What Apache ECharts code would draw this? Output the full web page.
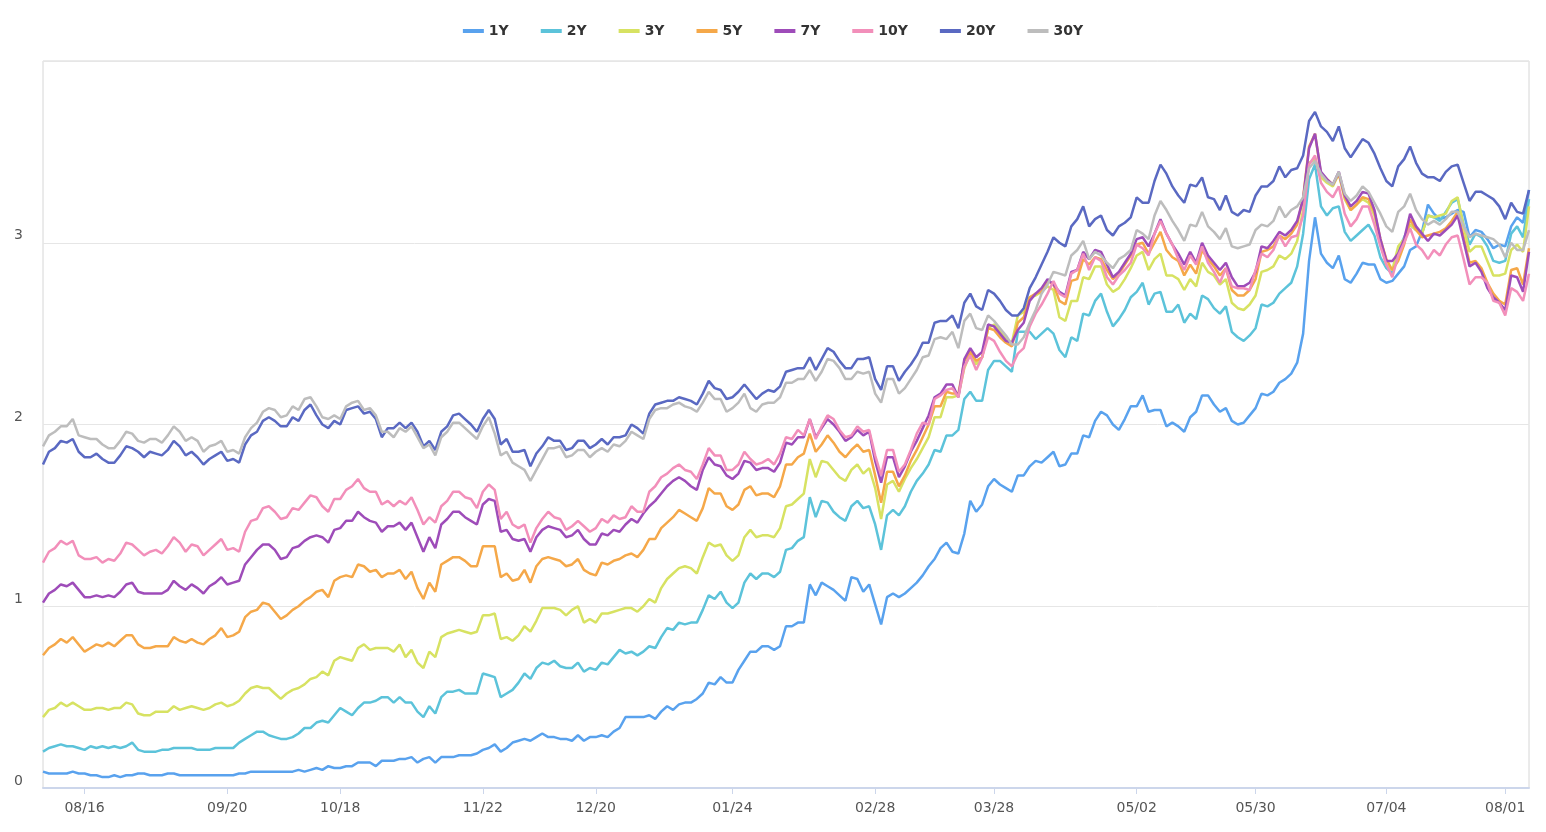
<!DOCTYPE html>
<html><head><meta charset="utf-8">
<script src="https://cdn.jsdelivr.net/npm/echarts@6/dist/echarts.min.js"></script>
<style>html,body{margin:0;padding:0;background:#fff}#chart{width:1546px;height:832px}</style>
</head><body><div id="chart"></div>
<script>
const dates = [
'08/05','08/06','08/09','08/10','08/11','08/12','08/13','08/16','08/17','08/18','08/19','08/20','08/23','08/24','08/25','08/26','08/27','08/30','08/31',
'09/01','09/02','09/03','09/07','09/08','09/09','09/10','09/13','09/14','09/15','09/16','09/17','09/20','09/21','09/22','09/23','09/24','09/27','09/28','09/29','09/30',
'10/01','10/04','10/05','10/06','10/07','10/08','10/12','10/13','10/14','10/15','10/18','10/19','10/20','10/21','10/22','10/25','10/26','10/27','10/28','10/29',
'11/01','11/02','11/03','11/04','11/05','11/08','11/09','11/10','11/12','11/15','11/16','11/17','11/18','11/19','11/22','11/23','11/24','11/26','11/29','11/30',
'12/01','12/02','12/03','12/06','12/07','12/08','12/09','12/10','12/13','12/14','12/15','12/16','12/17','12/20','12/21','12/22','12/23','12/27','12/28','12/29','12/30','12/31',
'01/03','01/04','01/05','01/06','01/07','01/10','01/11','01/12','01/13','01/14','01/18','01/19','01/20','01/21','01/24','01/25','01/26','01/27','01/28','01/31',
'02/01','02/02','02/03','02/04','02/07','02/08','02/09','02/10','02/11','02/14','02/15','02/16','02/17','02/18','02/22','02/23','02/24','02/25','02/28',
'03/01','03/02','03/03','03/04','03/07','03/08','03/09','03/10','03/11','03/14','03/15','03/16','03/17','03/18','03/21','03/22','03/23','03/24','03/25','03/28','03/29','03/30','03/31',
'04/01','04/04','04/05','04/06','04/07','04/08','04/11','04/12','04/13','04/14','04/18','04/19','04/20','04/21','04/22','04/25','04/26','04/27','04/28','04/29',
'05/02','05/03','05/04','05/05','05/06','05/09','05/10','05/11','05/12','05/13','05/16','05/17','05/18','05/19','05/20','05/23','05/24','05/25','05/26','05/27',
'05/30','05/31','06/01','06/02','06/06','06/07','06/08','06/09','06/10','06/13','06/14','06/15','06/16','06/17','06/21','06/22','06/23','06/24','06/27','06/28','06/29','06/30','07/04',
'07/05','07/06','07/07','07/08','07/11','07/12','07/13','07/14','07/15','07/18','07/19','07/20','07/21','07/22','07/25','07/26','07/27','07/28','07/29',
'08/01','08/02','08/03','08/04','08/05'
];
const labelDates = ['08/16','09/20','10/18','11/22','12/20','01/24','02/28','03/28','05/02','05/30','07/04','08/01'];
const yTicks = [0, 1, 2, 3];

const y1 = [
0.09,0.08,0.08,0.08,0.08,0.09,0.08,0.08,0.07,0.07,
0.06,0.06,0.07,0.06,0.07,0.07,0.08,0.08,0.07,0.07,
0.07,0.08,0.08,0.07,0.07,0.07,0.07,0.07,0.07,0.07,
0.07,0.07,0.07,0.08,0.08,0.09,0.09,0.09,0.09,0.09,
0.09,0.09,0.09,0.10,0.09,0.10,0.11,0.10,0.12,0.11,
0.11,0.12,0.12,0.14,0.14,0.14,0.12,0.15,0.15,0.15,
0.16,0.16,0.17,0.14,0.16,0.17,0.14,0.17,0.17,0.17,
0.18,0.18,0.18,0.19,0.21,0.22,0.24,0.20,0.22,0.25,
0.26,0.27,0.26,0.28,0.30,0.28,0.28,0.27,0.27,0.26,
0.29,0.26,0.28,0.28,0.29,0.28,0.31,0.33,0.39,0.39,
0.39,0.39,0.40,0.38,0.42,0.45,0.43,0.46,0.47,0.47,
0.49,0.52,0.58,0.57,0.61,0.58,0.58,0.65,0.70,0.75,
0.75,0.78,0.78,0.76,0.78,0.89,0.89,0.91,0.91,1.12,
1.06,1.13,1.11,1.09,1.06,1.03,1.16,1.15,1.08,1.12,
1.01,0.90,1.05,1.07,1.05,1.07,1.10,1.13,1.17,1.22,
1.26,1.32,1.35,1.30,1.29,1.40,1.58,1.52,1.56,1.66,
1.70,1.67,1.65,1.63,1.72,1.72,1.77,1.80,1.79,1.82,
1.85,1.77,1.78,1.84,1.84,1.94,1.93,2.02,2.07,2.05,
2.00,1.97,2.03,2.10,2.10,2.16,2.07,2.08,2.08,1.99,
2.01,1.99,1.96,2.04,2.07,2.16,2.16,2.11,2.07,2.09,
2.02,2.00,2.01,2.05,2.09,2.17,2.16,2.18,2.23,2.25,
2.28,2.34,2.50,2.90,3.14,2.94,2.89,2.86,2.93,2.80,
2.78,2.83,2.89,2.88,2.88,2.80,2.78,2.79,2.83,2.87,
2.96,2.98,3.06,3.21,3.16,3.13,3.14,3.16,3.18,3.17,
3.03,3.07,3.06,3.02,2.97,2.99,2.98,3.09,3.14,3.11,3.29
];
const y2 = [
0.20,0.22,0.23,0.24,0.23,0.23,0.22,0.21,0.23,0.22,
0.23,0.22,0.23,0.22,0.23,0.25,0.21,0.20,0.20,0.20,
0.21,0.21,0.22,0.22,0.22,0.22,0.21,0.21,0.21,0.22,
0.22,0.22,0.22,0.25,0.27,0.29,0.31,0.31,0.29,0.28,
0.27,0.27,0.28,0.30,0.33,0.33,0.36,0.37,0.36,0.40,
0.44,0.42,0.40,0.44,0.47,0.47,0.48,0.50,0.50,0.47,
0.50,0.47,0.47,0.42,0.39,0.45,0.41,0.50,0.53,0.53,
0.54,0.52,0.52,0.52,0.63,0.62,0.61,0.50,0.52,0.54,
0.58,0.63,0.60,0.66,0.69,0.68,0.70,0.67,0.66,0.66,
0.69,0.64,0.66,0.65,0.69,0.68,0.72,0.76,0.74,0.75,
0.73,0.75,0.78,0.77,0.83,0.88,0.87,0.91,0.90,0.91,
0.91,0.98,1.06,1.04,1.08,1.02,0.99,1.02,1.13,1.18,
1.15,1.18,1.18,1.16,1.19,1.31,1.32,1.36,1.38,1.60,
1.49,1.58,1.57,1.52,1.49,1.47,1.55,1.58,1.54,1.55,
1.45,1.31,1.50,1.53,1.50,1.55,1.63,1.69,1.73,1.78,
1.86,1.85,1.94,1.94,1.97,2.14,2.18,2.13,2.13,2.30,
2.35,2.35,2.32,2.29,2.51,2.51,2.51,2.47,2.50,2.53,
2.50,2.41,2.37,2.48,2.46,2.61,2.60,2.68,2.72,2.62,
2.54,2.58,2.63,2.70,2.73,2.78,2.66,2.72,2.73,2.62,
2.62,2.66,2.56,2.61,2.58,2.71,2.69,2.64,2.61,2.65,
2.51,2.48,2.46,2.49,2.53,2.66,2.65,2.67,2.72,2.75,
2.78,2.87,3.05,3.35,3.43,3.20,3.15,3.19,3.20,3.06,
3.01,3.04,3.07,3.10,3.04,2.92,2.86,2.83,2.96,3.03,
3.10,3.07,3.05,3.15,3.14,3.12,3.17,3.22,3.24,3.10,
2.99,3.05,3.03,2.98,2.90,2.89,2.90,3.05,3.09,3.03,3.24
];
const y3 = [
0.39,0.43,0.44,0.47,0.45,0.47,0.45,0.43,0.43,0.44,
0.44,0.43,0.44,0.44,0.47,0.46,0.41,0.40,0.40,0.42,
0.42,0.42,0.45,0.43,0.44,0.45,0.44,0.43,0.44,0.46,
0.47,0.45,0.46,0.48,0.52,0.55,0.56,0.55,0.55,0.52,
0.49,0.52,0.54,0.55,0.57,0.60,0.61,0.64,0.62,0.70,
0.72,0.71,0.70,0.77,0.79,0.76,0.77,0.77,0.77,0.75,
0.79,0.72,0.76,0.69,0.66,0.75,0.72,0.83,0.85,0.86,
0.87,0.86,0.85,0.86,0.95,0.95,0.96,0.82,0.83,0.81,
0.84,0.89,0.86,0.92,0.99,0.99,0.99,0.98,0.95,0.98,
1.00,0.91,0.93,0.91,0.96,0.96,0.97,0.98,0.99,0.99,
0.97,1.00,1.04,1.02,1.10,1.15,1.18,1.21,1.22,1.21,
1.18,1.27,1.35,1.33,1.34,1.28,1.25,1.28,1.38,1.42,
1.38,1.39,1.39,1.38,1.43,1.55,1.56,1.59,1.62,1.81,
1.71,1.80,1.79,1.75,1.71,1.69,1.75,1.78,1.73,1.76,
1.65,1.48,1.67,1.69,1.63,1.70,1.76,1.81,1.87,1.93,
2.04,2.04,2.15,2.15,2.16,2.31,2.39,2.33,2.37,2.53,
2.55,2.52,2.47,2.45,2.60,2.62,2.70,2.71,2.73,2.76,
2.74,2.59,2.57,2.68,2.68,2.81,2.80,2.87,2.87,2.77,
2.73,2.75,2.80,2.86,2.93,2.95,2.85,2.91,2.94,2.82,
2.82,2.80,2.74,2.80,2.76,2.89,2.84,2.82,2.77,2.80,
2.67,2.64,2.63,2.66,2.71,2.84,2.85,2.87,2.93,2.91,
2.94,3.01,3.18,3.44,3.46,3.36,3.33,3.31,3.38,3.24,
3.18,3.21,3.24,3.22,3.15,3.00,2.88,2.85,2.98,3.02,
3.10,3.07,3.05,3.15,3.14,3.15,3.16,3.23,3.25,3.09,
2.95,2.98,2.98,2.90,2.82,2.82,2.83,2.96,2.99,2.95,3.20
];
const y5 = [
0.73,0.77,0.79,0.82,0.80,0.83,0.79,0.75,0.77,0.79,
0.78,0.80,0.78,0.81,0.84,0.84,0.79,0.77,0.77,0.78,
0.78,0.78,0.83,0.81,0.80,0.82,0.80,0.79,0.82,0.84,
0.88,0.83,0.84,0.86,0.94,0.97,0.98,1.02,1.01,0.97,
0.93,0.95,0.98,1.00,1.03,1.05,1.08,1.09,1.05,1.14,
1.16,1.17,1.16,1.23,1.22,1.19,1.20,1.16,1.18,1.18,
1.20,1.15,1.19,1.10,1.04,1.13,1.08,1.23,1.25,1.27,
1.27,1.25,1.22,1.22,1.33,1.33,1.33,1.16,1.18,1.14,
1.15,1.20,1.13,1.22,1.26,1.27,1.26,1.25,1.22,1.23,
1.26,1.20,1.18,1.17,1.24,1.23,1.25,1.26,1.28,1.29,
1.27,1.31,1.37,1.37,1.43,1.46,1.49,1.53,1.51,1.49,
1.47,1.54,1.65,1.62,1.62,1.55,1.53,1.56,1.64,1.66,
1.61,1.62,1.62,1.60,1.66,1.78,1.78,1.82,1.84,1.95,
1.85,1.89,1.94,1.90,1.85,1.82,1.86,1.89,1.85,1.86,
1.72,1.57,1.74,1.74,1.66,1.72,1.80,1.86,1.93,2.00,
2.10,2.10,2.18,2.17,2.17,2.35,2.40,2.35,2.37,2.53,
2.52,2.48,2.45,2.43,2.56,2.59,2.70,2.72,2.73,2.79,
2.77,2.68,2.66,2.79,2.80,2.91,2.88,2.92,2.91,2.85,
2.80,2.83,2.88,2.93,2.99,3.00,2.94,3.00,3.06,2.96,
2.92,2.90,2.82,2.88,2.83,2.96,2.91,2.87,2.82,2.86,
2.74,2.71,2.71,2.74,2.80,2.95,2.96,2.98,3.04,3.02,
3.05,3.10,3.25,3.53,3.60,3.38,3.35,3.32,3.38,3.25,
3.18,3.21,3.25,3.24,3.17,3.02,2.91,2.85,2.90,2.99,
3.13,3.07,3.03,3.04,3.05,3.06,3.08,3.12,3.17,3.03,
2.89,2.90,2.86,2.78,2.72,2.68,2.66,2.85,2.86,2.77,2.97
];
const y7 = [
1.02,1.07,1.09,1.12,1.11,1.13,1.09,1.05,1.05,1.06,
1.05,1.06,1.05,1.08,1.12,1.13,1.08,1.07,1.07,1.07,
1.07,1.09,1.14,1.11,1.09,1.12,1.10,1.07,1.11,1.13,
1.16,1.12,1.13,1.14,1.23,1.27,1.31,1.34,1.34,1.31,
1.26,1.27,1.32,1.33,1.36,1.38,1.39,1.38,1.35,1.42,
1.43,1.47,1.47,1.52,1.49,1.47,1.46,1.41,1.44,1.44,
1.46,1.42,1.46,1.38,1.30,1.38,1.32,1.45,1.48,1.52,
1.52,1.49,1.47,1.45,1.56,1.59,1.58,1.41,1.42,1.37,
1.36,1.37,1.30,1.38,1.42,1.44,1.43,1.42,1.38,1.39,
1.42,1.37,1.34,1.34,1.40,1.39,1.42,1.41,1.45,1.48,
1.46,1.51,1.55,1.58,1.62,1.66,1.69,1.71,1.69,1.66,
1.64,1.75,1.82,1.78,1.77,1.72,1.70,1.73,1.80,1.79,
1.75,1.76,1.76,1.74,1.79,1.90,1.89,1.93,1.93,2.03,
1.93,1.98,2.03,2.00,1.96,1.91,1.93,1.97,1.94,1.96,
1.80,1.68,1.82,1.82,1.71,1.77,1.85,1.91,1.98,2.05,
2.15,2.17,2.22,2.22,2.15,2.36,2.42,2.37,2.40,2.55,
2.54,2.50,2.46,2.45,2.52,2.56,2.68,2.72,2.75,2.80,
2.77,2.73,2.71,2.84,2.85,2.95,2.91,2.96,2.95,2.88,
2.81,2.84,2.89,2.94,3.02,3.03,2.98,3.05,3.13,3.05,
2.99,2.94,2.88,2.95,2.89,3.00,2.93,2.89,2.85,2.89,
2.81,2.76,2.76,2.78,2.84,2.98,2.97,3.01,3.06,3.04,
3.07,3.12,3.24,3.52,3.60,3.39,3.35,3.32,3.39,3.26,
3.20,3.23,3.28,3.27,3.18,3.02,2.90,2.90,2.94,3.02,
3.16,3.09,3.05,3.01,3.05,3.04,3.07,3.10,3.15,3.01,
2.87,2.89,2.84,2.75,2.70,2.67,2.63,2.82,2.81,2.73,2.95
];
const y10 = [
1.24,1.30,1.32,1.36,1.34,1.36,1.28,1.26,1.26,1.27,
1.24,1.26,1.25,1.29,1.35,1.34,1.31,1.28,1.30,1.31,
1.29,1.33,1.38,1.35,1.30,1.34,1.33,1.28,1.31,1.34,
1.37,1.31,1.32,1.30,1.41,1.47,1.48,1.54,1.55,1.52,
1.48,1.49,1.54,1.53,1.57,1.61,1.60,1.55,1.52,1.59,
1.59,1.64,1.66,1.70,1.65,1.63,1.63,1.56,1.58,1.55,
1.58,1.56,1.60,1.53,1.45,1.49,1.46,1.55,1.58,1.63,
1.63,1.60,1.59,1.54,1.63,1.67,1.64,1.48,1.52,1.45,
1.43,1.45,1.35,1.43,1.48,1.52,1.49,1.48,1.42,1.44,
1.47,1.44,1.41,1.43,1.48,1.46,1.50,1.48,1.49,1.55,
1.52,1.52,1.63,1.66,1.71,1.73,1.76,1.78,1.75,1.74,
1.70,1.78,1.87,1.83,1.83,1.75,1.75,1.78,1.85,1.81,
1.78,1.79,1.81,1.78,1.84,1.93,1.92,1.97,1.94,2.03,
1.92,1.99,2.05,2.03,1.97,1.93,1.94,1.99,1.96,1.97,
1.83,1.72,1.86,1.86,1.74,1.78,1.86,1.95,2.01,2.00,
2.14,2.16,2.19,2.20,2.15,2.32,2.38,2.30,2.37,2.48,
2.46,2.40,2.35,2.32,2.39,2.42,2.54,2.61,2.66,2.72,
2.79,2.72,2.70,2.83,2.85,2.94,2.85,2.92,2.90,2.81,
2.77,2.82,2.85,2.89,2.99,2.97,2.93,3.05,3.12,3.05,
2.99,2.91,2.85,2.93,2.88,2.98,2.89,2.84,2.78,2.86,
2.76,2.75,2.75,2.74,2.85,2.94,2.92,2.96,3.04,2.98,
3.03,3.04,3.15,3.43,3.48,3.33,3.28,3.25,3.31,3.16,
3.09,3.13,3.20,3.20,3.10,2.98,2.88,2.81,2.93,3.00,
3.08,2.99,2.96,2.91,2.96,2.93,2.99,3.03,3.04,2.91,
2.77,2.81,2.81,2.78,2.68,2.67,2.60,2.75,2.73,2.68,2.83
];
const y20 = [
1.78,1.85,1.87,1.91,1.90,1.92,1.85,1.82,1.82,1.84,
1.81,1.79,1.79,1.83,1.88,1.87,1.85,1.82,1.85,1.84,
1.83,1.86,1.91,1.88,1.83,1.85,1.82,1.78,1.81,1.83,
1.85,1.80,1.81,1.79,1.89,1.94,1.96,2.02,2.04,2.02,
1.99,1.99,2.04,2.02,2.08,2.11,2.05,2.00,1.98,2.02,
2.00,2.08,2.09,2.10,2.06,2.07,2.03,1.93,1.98,1.98,
2.01,1.98,2.01,1.96,1.88,1.91,1.86,1.96,1.99,2.05,
2.06,2.03,2.00,1.96,2.03,2.08,2.03,1.89,1.92,1.85,
1.85,1.86,1.77,1.84,1.88,1.93,1.91,1.91,1.86,1.87,
1.91,1.91,1.87,1.89,1.92,1.89,1.93,1.93,1.94,2.00,
1.98,1.95,2.06,2.11,2.12,2.13,2.13,2.15,2.14,2.13,
2.11,2.17,2.24,2.20,2.19,2.14,2.15,2.18,2.22,2.18,
2.14,2.17,2.19,2.18,2.21,2.29,2.30,2.31,2.31,2.37,
2.30,2.36,2.42,2.40,2.35,2.31,2.31,2.36,2.36,2.37,
2.25,2.19,2.32,2.32,2.24,2.29,2.33,2.38,2.45,2.45,
2.56,2.57,2.57,2.60,2.53,2.67,2.72,2.65,2.63,2.74,
2.72,2.68,2.63,2.60,2.60,2.64,2.75,2.81,2.88,2.95,
3.03,3.00,2.98,3.09,3.13,3.20,3.09,3.13,3.15,3.07,
3.04,3.09,3.11,3.14,3.25,3.22,3.22,3.34,3.43,3.38,
3.31,3.26,3.22,3.32,3.31,3.36,3.25,3.24,3.18,3.26,
3.17,3.15,3.18,3.17,3.26,3.31,3.31,3.34,3.42,3.36,
3.40,3.41,3.48,3.67,3.72,3.64,3.61,3.56,3.64,3.52,
3.47,3.52,3.57,3.55,3.49,3.41,3.34,3.31,3.42,3.46,
3.53,3.44,3.38,3.36,3.36,3.34,3.39,3.42,3.43,3.33,
3.23,3.28,3.28,3.26,3.24,3.20,3.13,3.22,3.17,3.16,3.29
];
const y30 = [
1.88,1.94,1.96,1.99,1.99,2.03,1.94,1.93,1.92,1.92,
1.89,1.87,1.87,1.91,1.96,1.95,1.91,1.90,1.92,1.92,
1.90,1.94,1.99,1.96,1.91,1.93,1.91,1.85,1.88,1.89,
1.91,1.85,1.86,1.84,1.93,1.98,2.01,2.07,2.09,2.08,
2.04,2.05,2.10,2.08,2.14,2.15,2.10,2.04,2.03,2.05,
2.03,2.10,2.12,2.13,2.08,2.09,2.05,1.96,1.96,1.93,
1.98,1.96,1.99,1.93,1.87,1.89,1.83,1.93,1.96,2.01,
2.01,1.98,1.95,1.92,1.99,2.04,1.95,1.83,1.85,1.79,
1.77,1.75,1.69,1.75,1.81,1.87,1.87,1.88,1.82,1.83,
1.86,1.86,1.82,1.85,1.87,1.85,1.89,1.88,1.91,1.96,
1.94,1.92,2.03,2.08,2.09,2.09,2.11,2.12,2.10,2.09,
2.07,2.12,2.18,2.14,2.14,2.07,2.09,2.12,2.17,2.09,
2.07,2.11,2.12,2.12,2.15,2.23,2.23,2.25,2.25,2.30,
2.24,2.29,2.36,2.35,2.31,2.25,2.25,2.29,2.28,2.29,
2.17,2.12,2.25,2.25,2.17,2.20,2.25,2.30,2.37,2.38,
2.47,2.48,2.47,2.51,2.42,2.57,2.61,2.53,2.52,2.60,
2.57,2.53,2.49,2.44,2.44,2.48,2.56,2.63,2.72,2.77,
2.84,2.83,2.82,2.93,2.96,3.01,2.91,2.95,2.93,2.89,
2.86,2.91,2.93,2.96,3.07,3.05,3.02,3.15,3.23,3.18,
3.12,3.07,3.01,3.10,3.09,3.17,3.09,3.06,3.02,3.08,
2.98,2.97,2.98,2.99,3.07,3.10,3.09,3.12,3.20,3.14,
3.18,3.20,3.25,3.41,3.45,3.38,3.34,3.32,3.39,3.27,
3.23,3.26,3.31,3.28,3.22,3.16,3.09,3.06,3.17,3.20,
3.27,3.18,3.13,3.10,3.12,3.10,3.13,3.17,3.17,3.09,
3.03,3.05,3.04,3.03,3.02,2.99,2.92,3.00,2.96,2.96,3.07
];

const seriesNames = ['1Y','2Y','3Y','5Y','7Y','10Y','20Y','30Y'];
const seriesData = [y1, y2, y3, y5, y7, y10, y20, y30];
const colors = ['#59a2ee','#5cc3da','#d7e262','#f5a849','#9e4cb9','#f28fba','#5a69c2','#bdbdbd'];
const FONT = 'DejaVu Sans';

const showLabel = function (index, value) { return labelDates.indexOf(value) !== -1; };

const chart = echarts.init(document.getElementById('chart'), null, { renderer: 'canvas' });
chart.setOption({
  animation: false,
  color: colors,
  textStyle: { fontFamily: FONT },
  legend: {
    top: 19, left: 'center', icon: 'rect', itemWidth: 21, itemHeight: 4, itemGap: 32,
    textStyle: { fontSize: 14, fontWeight: 'bold', color: '#333', fontFamily: FONT },
    data: seriesNames
  },
  grid: { left: 43, right: 17, top: 61, bottom: 44, show: true, borderColor: '#d6d6d6', borderWidth: 1 },
  xAxis: {
    type: 'category', data: dates, boundaryGap: false,
    axisLine: { lineStyle: { color: '#ccd6eb', width: 2 } },
    axisTick: { interval: showLabel, length: 6, lineStyle: { color: '#ccd6eb' } },
    axisLabel: { interval: showLabel, margin: 13, fontSize: 14, color: '#555', fontFamily: FONT },
    splitLine: { show: false }
  },
  yAxis: {
    type: 'value', min: yTicks[0], max: 4, interval: 1,
    axisLine: { show: false }, axisTick: { show: false },
    splitLine: { lineStyle: { color: '#e6e6e6' } },
    axisLabel: { showMaxLabel: false, fontSize: 14, color: '#555', margin: 20, verticalAlign: 'bottom', lineHeight: 14, fontFamily: FONT }
  },
  series: seriesNames.map(function (name, i) {
    return {
      name: name, type: 'line', data: seriesData[i],
      symbol: 'none', showSymbol: false,
      lineStyle: { width: 2.5, color: colors[i] },
      itemStyle: { color: colors[i] }
    };
  })
});
</script>
</body></html>
